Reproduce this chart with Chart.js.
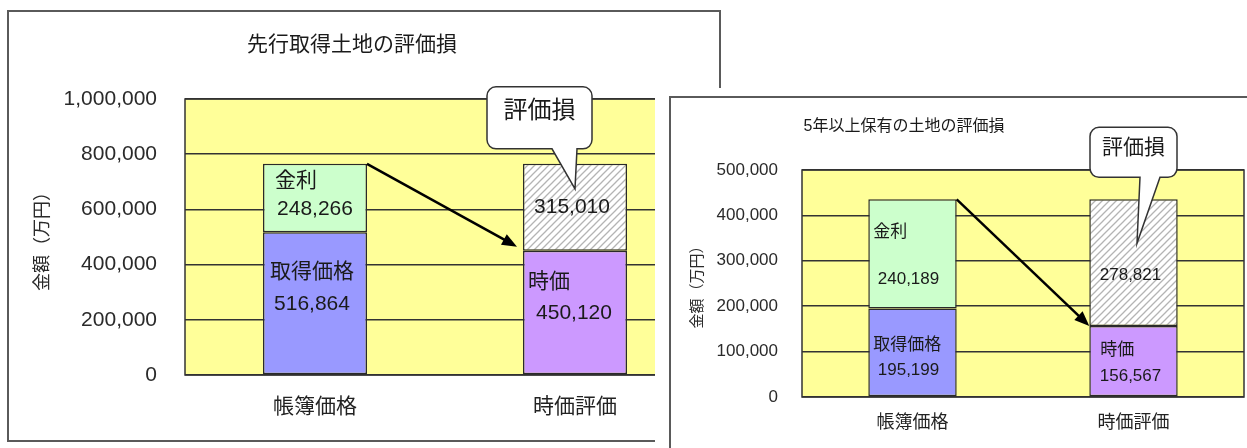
<!DOCTYPE html>
<html>
<head>
<meta charset="utf-8">
<title>評価損</title>
<script src="https://cdn.jsdelivr.net/npm/chart.js"></script>
<style>
  body { margin: 0; background: #fff; }
  #wrap { position: relative; width: 1247px; height: 448px; overflow: hidden; }
  #c1 { position: absolute; left: 0; top: 0; }
  #c2 { position: absolute; left: 655px; top: 88px; background: #fff; }
</style>
</head>
<body>
<div id="wrap">
  <canvas id="c1" width="722" height="448"></canvas>
  <canvas id="c2" width="592" height="360"></canvas>
</div>
<script>
// data
const categories = ['帳簿価格', '時価評価'];
const yTitle = '金額（万円）';
const calloutLabel = '評価損';
const baseNames = ['取得価格', '時価'];
const topNames = ['金利', ''];

const title1 = '先行取得土地の評価損';
const base1 = [516864, 450120];
const top1 = [248266, 315010];
const max1 = 1000000;
const step1 = 200000;

const title2 = '5年以上保有の土地の評価損';
const base2 = [195199, 156567];
const top2 = [240189, 278821];
const max2 = 500000;
const step2 = 100000;

const FONT = "'Liberation Sans', 'Noto Sans CJK JP', sans-serif";
const fmt = v => v.toLocaleString('en-US');

function hatch() {
  const n = 7;
  const c = document.createElement('canvas');
  c.width = n; c.height = n;
  const g = c.getContext('2d');
  g.fillStyle = '#fff';
  g.fillRect(0, 0, n, n);
  g.strokeStyle = '#b4b4b4';
  g.lineWidth = 1.3;
  g.beginPath();
  g.moveTo(0, n); g.lineTo(n, 0);
  g.moveTo(-1, 1); g.lineTo(1, -1);
  g.moveTo(n - 1, n + 1); g.lineTo(n + 1, n - 1);
  g.stroke();
  return g.createPattern(c, 'repeat');
}

// frame, plot background, titles, in-bar labels, arrow and callout
const deco = {
  id: 'deco',
  beforeDraw(chart, args, o) {
    const { ctx, chartArea: a } = chart;
    ctx.save();
    ctx.strokeStyle = '#5a5a5a';
    ctx.lineWidth = 2;
    ctx.strokeRect(...o.frame);
    ctx.fillStyle = '#FFFF99';
    ctx.fillRect(a.left, a.top, a.width, a.height);
    ctx.fillStyle = '#1a1a1a';
    ctx.font = o.titleFont + 'px ' + FONT;
    ctx.textAlign = 'center';
    ctx.textBaseline = 'middle';
    ctx.fillText(o.title, o.titleX, o.titleY);
    ctx.restore();
  },
  beforeDatasetsDraw(chart) {
    const { ctx, chartArea: a } = chart;
    ctx.save();
    ctx.strokeStyle = '#333';
    ctx.lineWidth = 1.5;
    ctx.strokeRect(a.left, a.top, a.width, a.height);
    ctx.restore();
  },
  afterDatasetsDraw(chart, args, o) {
    const { ctx } = chart;
    const low = chart.getDatasetMeta(0).data;
    const up = chart.getDatasetMeta(1).data;
    ctx.save();
    ctx.font = o.innerFont + 'px ' + FONT;
    ctx.fillStyle = '#1a1a1a';
    ctx.textBaseline = 'middle';
    [low, up].forEach((bars, d) => {
      const ds = chart.data.datasets[d];
      bars.forEach((bar, i) => {
        const p = o.labels[d][i];
        const left = bar.x - bar.width / 2;
        const top = Math.min(bar.y, bar.base);
        if (p.n && ds.names[i]) {
          ctx.textAlign = 'left';
          ctx.fillText(ds.names[i], left + p.n[0], top + p.n[1]);
        }
        ctx.textAlign = 'center';
        ctx.fillText(fmt(ds.data[i]), bar.x + p.v[0], top + p.v[1]);
      });
    });

    // arrow from top of book value to top of market value
    const s = { x: up[0].x + up[0].width / 2, y: up[0].y };
    const e = { x: low[1].x - low[1].width / 2 + o.arrow.dx, y: low[1].y + o.arrow.dy };
    const ang = Math.atan2(e.y - s.y, e.x - s.x);
    const cos = Math.cos(ang), sin = Math.sin(ang), hl = 15, hw = 6;
    ctx.strokeStyle = '#000';
    ctx.lineWidth = 2.5;
    ctx.beginPath();
    ctx.moveTo(s.x, s.y);
    ctx.lineTo(e.x - hl * 0.8 * cos, e.y - hl * 0.8 * sin);
    ctx.stroke();
    ctx.fillStyle = '#000';
    ctx.beginPath();
    ctx.moveTo(e.x, e.y);
    ctx.lineTo(e.x - hl * cos + hw * sin, e.y - hl * sin - hw * cos);
    ctx.lineTo(e.x - hl * cos - hw * sin, e.y - hl * sin + hw * cos);
    ctx.closePath();
    ctx.fill();

    // callout bubble
    const c = o.callout, b = up[1], cx = b.x, ty = b.y, r = 9;
    const x0 = cx + c.left, x1 = cx + c.right, y0 = ty + c.top, y1 = ty + c.bottom;
    ctx.beginPath();
    ctx.moveTo(x0 + r, y0);
    ctx.lineTo(x1 - r, y0);
    ctx.arcTo(x1, y0, x1, y0 + r, r);
    ctx.lineTo(x1, y1 - r);
    ctx.arcTo(x1, y1, x1 - r, y1, r);
    ctx.lineTo(cx + c.tailR, y1);
    ctx.lineTo(cx + c.tipDx, ty + c.tipDy);
    ctx.lineTo(cx + c.tailL, y1);
    ctx.lineTo(x0 + r, y1);
    ctx.arcTo(x0, y1, x0, y1 - r, r);
    ctx.lineTo(x0, y0 + r);
    ctx.arcTo(x0, y0, x0 + r, y0, r);
    ctx.closePath();
    ctx.fillStyle = '#fff';
    ctx.fill();
    ctx.strokeStyle = '#333';
    ctx.lineWidth = 1.5;
    ctx.stroke();
    ctx.fillStyle = '#1a1a1a';
    ctx.font = c.font + 'px ' + FONT;
    ctx.textAlign = 'center';
    ctx.fillText(calloutLabel, (x0 + x1) / 2, (y0 + y1) / 2 + c.textDy);
    ctx.restore();
  }
};

function build(id, title, base, top, max, step, L) {
  return new Chart(document.getElementById(id), {
    type: 'bar',
    data: {
      labels: categories,
      datasets: [
        { data: base, backgroundColor: ['#9999FF', '#CC99FF'], names: baseNames },
        { data: top, backgroundColor: ['#CCFFCC', hatch()], names: topNames }
      ]
    },
    options: {
      responsive: false,
      animation: false,
      layout: { padding: { top: L.padTop, left: 0, right: L.padRight, bottom: 0 } },
      datasets: {
        bar: { categoryPercentage: 1, barPercentage: 0.4, borderColor: '#2a2a2a', borderWidth: 1.5, borderSkipped: false }
      },
      plugins: {
        legend: { display: false },
        tooltip: { enabled: false },
        title: { display: false },
        deco: Object.assign({ title }, L)
      },
      scales: {
        x: {
          stacked: true,
          grid: { display: false, drawTicks: false },
          border: { display: false },
          ticks: { padding: L.xPad, color: '#222', font: { family: FONT, size: L.xFont } },
          afterFit: s => { s.height = L.xH; }
        },
        y: {
          stacked: true,
          min: 0,
          max: max,
          grid: { color: '#333', lineWidth: 1.5, drawTicks: false },
          border: { display: false },
          ticks: {
            stepSize: step,
            padding: L.yPad,
            color: '#2a2a2a',
            font: { family: FONT, size: L.yFont },
            callback: v => fmt(v)
          },
          title: {
            display: true,
            text: yTitle,
            color: '#2a2a2a',
            font: { family: FONT, size: L.yTitleFont },
            padding: { top: L.yTitlePad, bottom: 0 }
          },
          afterFit: s => { s.width = L.yW; }
        }
      }
    },
    plugins: [deco]
  });
}

build('c1', title1, base1, top1, max1, step1, {
  padTop: 99, padRight: 17, xH: 73, yW: 185,
  xPad: 20, yPad: 28, xFont: 21, yFont: 21, yTitleFont: 18, yTitlePad: 32,
  titleFont: 21, titleX: 352, titleY: 45,
  frame: [8, 11, 712, 430],
  innerFont: 21,
  labels: [
    [{ n: [7, 40], v: [-3, 72] }, { n: [5, 31], v: [-1, 62] }],
    [{ n: [12, 17], v: [0, 45] }, { v: [-3, 43] }]
  ],
  arrow: { dx: -6, dy: -4 },
  callout: { left: -88, right: 17, top: -77, bottom: -15, tailL: -23, tailR: 2, tipDx: 0, tipDy: 25, font: 24, textDy: -6 }
});

build('c2', title2, base2, top2, max2, step2, {
  padTop: 82, padRight: 3, xH: 51, yW: 147,
  xPad: 15, yPad: 24, xFont: 18, yFont: 17, yTitleFont: 15, yTitlePad: 34,
  titleFont: 16, titleX: 249, titleY: 39,
  frame: [15, 9, 700, 400],
  innerFont: 17,
  labels: [
    [{ n: [5, 37], v: [-4, 62] }, { n: [11, 24], v: [-3, 50] }],
    [{ n: [5, 33], v: [-4, 80] }, { v: [-3, 76] }]
  ],
  arrow: { dx: 0, dy: 0 },
  callout: { left: -43.5, right: 43.5, top: -72, bottom: -22, tailL: 6.5, tailR: 26.5, tipDx: 3.5, tipDy: 44, font: 21, textDy: -4 }
});
</script>
</body>
</html>
